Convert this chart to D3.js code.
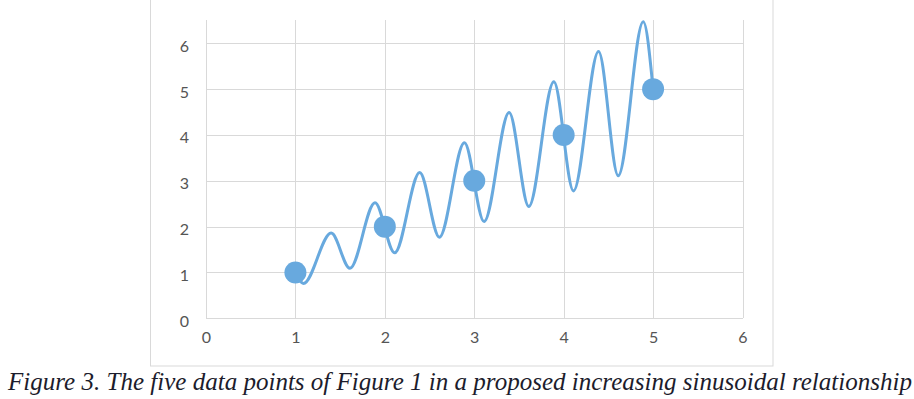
<!DOCTYPE html>
<html>
<head>
<meta charset="utf-8">
<script src="https://cdn.jsdelivr.net/npm/d3@7"></script>
<style>
  body { margin: 0; background: #fff; }
  .axis text { font-family: Lato, "Open Sans", sans-serif; font-size: 16px; fill: #555; }
  .axis .domain { display: none; }
  .axis line { stroke: #d9d9d9; shape-rendering: crispEdges; }
  .caption { font-family: "Liberation Serif", "Times New Roman", serif; font-style: italic; font-size: 25px; fill: #1c1c2c; }
</style>
</head>
<body>
<svg id="chart" width="914" height="399"></svg>
<script>
// the five data points
const pointX = [1, 2, 3, 4, 5]
const pointY = [1, 2, 3, 4, 5]

const curveX = [1, 1.09, 1.40, 1.61, 1.89, 2.11, 2.39, 2.61, 2.89, 3.11, 3.39, 3.61, 3.89, 4.11, 4.39, 4.61, 4.89, 5]
const curveY = [1, 0.76, 1.86, 1.09, 2.52, 1.43, 3.18, 1.77, 3.83, 2.11, 4.49, 2.44, 5.16, 2.78, 5.82, 3.11, 6.47, 5]

const xTicks = [0, 1, 2, 3, 4, 5, 6]
const yTicks = [0, 1, 2, 3, 4, 5, 6]
const caption = 'Figure 3. The five data points of Figure 1 in a proposed increasing sinusoidal relationship'

const width = 914, height = 399
const padding = { left: 206, right: 171.5, top: 20.4, bottom: 80.7 }
const color = '#68a9de'

const svg = d3.select('#chart')
svg.append('rect').attr('width', width).attr('height', height).attr('fill', '#fff')

// chart frame
svg.append('rect')
	.attr('x', 150.5).attr('y', -5)
	.attr('width', 622.5).attr('height', 371)
	.attr('fill', 'none').attr('stroke', '#d9d9d9')

let scaleX = d3.scaleLinear()
	.domain([0, 6])
	.range([padding.left, width - padding.right])
let scaleY = d3.scaleLinear()
	.domain([0, 6.5])
	.range([height - padding.bottom, padding.top])

const plotW = scaleX(6) - scaleX(0)
const plotH = scaleY(0) - scaleY(6.5)

// horizontal grid + y labels
let yAxis = svg.append('g')
	.attr('class', 'axis')
	.attr('transform', `translate(${scaleX(0)},0)`)
	.call(d3.axisLeft(scaleY).tickValues(yTicks).tickSize(-plotW).tickPadding(17).tickFormat(d3.format('d')))
yAxis.selectAll('text').attr('dy', '0.5em')

// vertical grid + x labels
let xAxis = svg.append('g')
	.attr('class', 'axis')
	.attr('transform', `translate(0,${scaleY(0)})`)
	.call(d3.axisBottom(scaleX).tickValues(xTicks).tickSize(-plotH).tickPadding(17).tickFormat(d3.format('d')))
xAxis.selectAll('text').attr('dy', '0.5em')

// sinusoidal line
const curveData = curveX.map((x, i) => [x, curveY[i]])
let linePath = d3.line()
	.x(d => scaleX(d[0]))
	.y(d => scaleY(d[1]))
	.curve(d3.curveMonotoneX)
svg.append('path')
	.attr('d', linePath(curveData))
	.attr('fill', 'none')
	.attr('stroke', color)
	.attr('stroke-width', 3)
	.attr('stroke-linecap', 'round')

// data points
svg.selectAll('circle.pt')
	.data(pointX.map((x, i) => [x, pointY[i]]))
	.join('circle')
	.attr('class', 'pt')
	.attr('cx', d => scaleX(d[0]))
	.attr('cy', d => scaleY(d[1]))
	.attr('r', 11)
	.attr('fill', color)

svg.append('text')
	.attr('class', 'caption')
	.attr('x', 8)
	.attr('y', 390)
	.attr('textLength', 904)
	.attr('lengthAdjust', 'spacingAndGlyphs')
	.text(caption)
</script>
</body>
</html>
